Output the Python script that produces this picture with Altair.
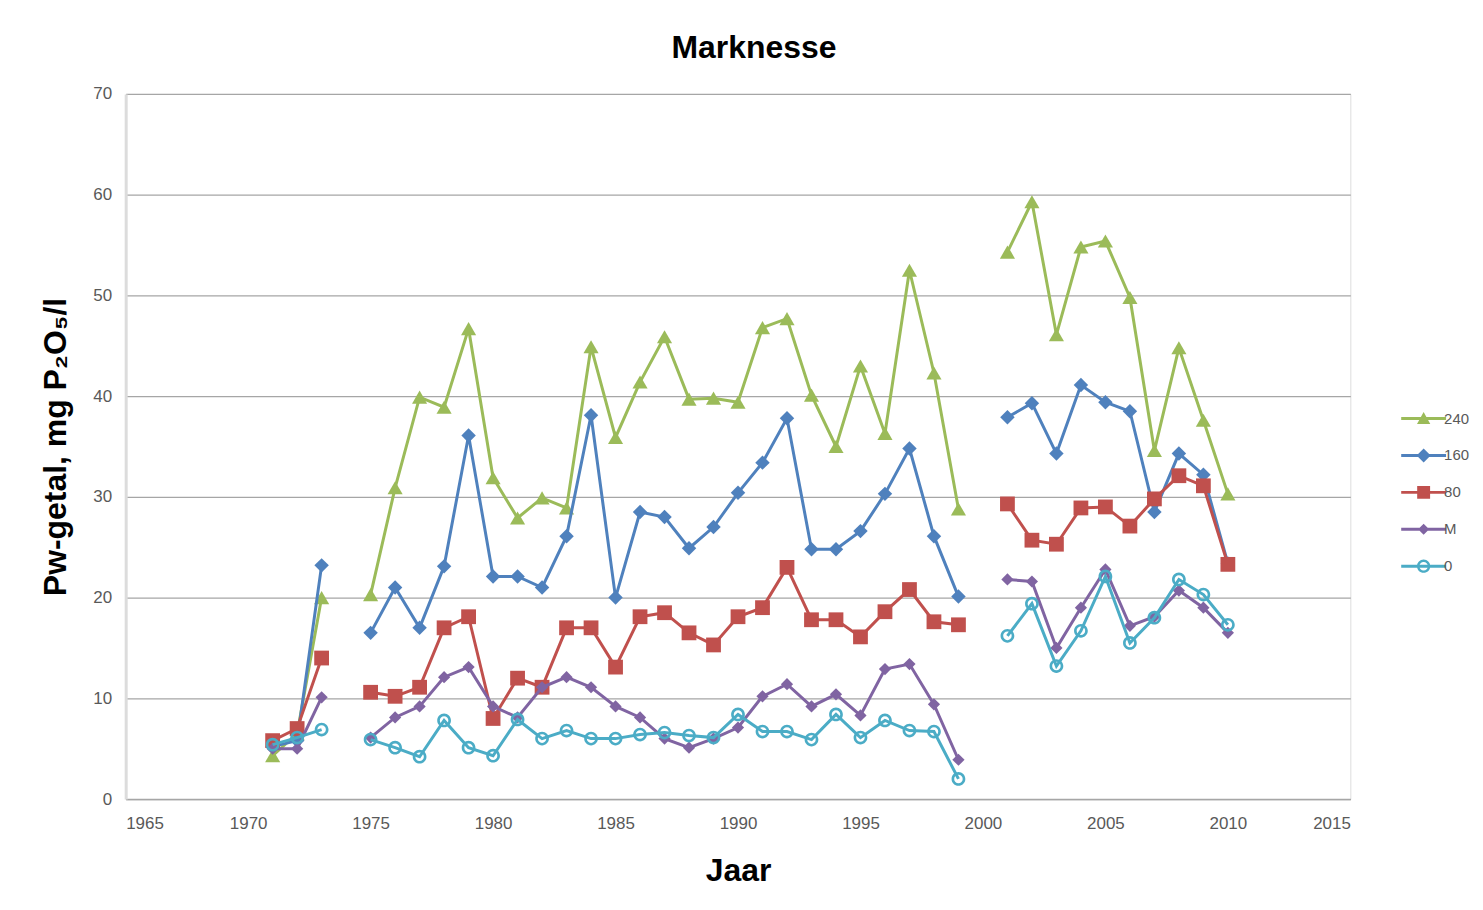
import altair as alt
import pandas as pd

# ---- data ----
years = [1971, 1972, 1973] + list(range(1975, 2000)) + list(range(2001, 2011))

s240 = [4.3, 6.5, 20.0,
        20.3, 30.9, 39.9, 38.9, 46.7, 31.9, 27.9, 29.9, 28.9, 44.9, 35.9, 41.4, 45.9,
        39.7, 39.8, 39.4, 46.8, 47.7, 40.1, 35.0, 43.0, 36.3, 52.5, 42.3, 28.8,
        54.3, 59.3, 46.1, 54.8, 55.4, 49.8, 34.6, 44.8, 37.6, 30.3]
s160 = [5.2, 5.8, 23.2,
        16.5, 21.0, 17.0, 23.1, 36.1, 22.1, 22.1, 21.0, 26.1, 38.1, 20.0, 28.5, 28.0,
        24.9, 27.0, 30.4, 33.4, 37.8, 24.8, 24.8, 26.6, 30.3, 34.8, 26.1, 20.1,
        37.9, 39.3, 34.3, 41.1, 39.4, 38.5, 28.5, 34.3, 32.2, 23.4]
s80 = [5.8, 7.0, 14.0,
       10.6, 10.2, 11.1, 17.0, 18.1, 8.0, 12.0, 11.1, 17.0, 17.0, 13.1, 18.1, 18.5,
       16.5, 15.3, 18.1, 19.0, 23.0, 17.8, 17.8, 16.1, 18.6, 20.8, 17.6, 17.3,
       29.3, 25.7, 25.3, 28.9, 29.0, 27.1, 29.8, 32.1, 31.1, 23.3]
sM = [5.0, 5.0, 10.1,
      6.1, 8.1, 9.2, 12.1, 13.1, 9.2, 8.1, 11.1, 12.1, 11.1, 9.2, 8.1, 6.0,
      5.1, 6.0, 7.1, 10.2, 11.4, 9.2, 10.4, 8.3, 12.9, 13.4, 9.4, 3.9,
      21.8, 21.6, 15.0, 19.0, 22.8, 17.2, 18.1, 20.7, 19.0, 16.5]
s0 = [5.4, 6.1, 6.9,
      5.9, 5.1, 4.2, 7.8, 5.1, 4.3, 7.9, 6.0, 6.8, 6.0, 6.0, 6.4, 6.6,
      6.3, 6.1, 8.4, 6.7, 6.7, 5.9, 8.4, 6.1, 7.8, 6.8, 6.7, 2.0,
      16.2, 19.4, 13.2, 16.7, 22.1, 15.5, 18.0, 21.8, 20.3, 17.3]

series_names = ["240", "160", "80", "M", "0"]
series_values = [s240, s160, s80, sM, s0]
colors = ["#9BBB59", "#4F81BD", "#C0504D", "#8064A2", "#4BACC6"]

x_ticks = list(range(1965, 2016, 5))
y_ticks = list(range(0, 71, 10))

rows = []
for name, vals in zip(series_names, series_values):
    for yr, v in zip(years, vals):
        seg = 0 if yr < 1974 else (1 if yr < 2000 else 2)
        rows.append({"year": yr, "value": v, "series": name, "segment": seg})
df = pd.DataFrame(rows)

# marker shapes (chart)
ring = ("M1,0A1,1,0,1,1,-1,0A1,1,0,1,1,1,0Z "
        "M0.62,0A0.62,0.62,0,1,0,-0.62,0A0.62,0.62,0,1,0,0.62,0Z")
shapes = ["triangle-up", "diamond", "square", "diamond", ring]
sizes = [230, 210, 220, 150, 190]

# legend symbols: line segment + marker
bar = "M-1.216,-0.08H1.216V0.08H-1.216Z "
leg_paths = [
    bar + "M0,-0.36L0.36,0.3H-0.36Z",
    bar + "M0,-0.38L0.38,0L0,0.38L-0.38,0Z",
    bar + "M-0.35,-0.35H0.35V0.35H-0.35Z",
    bar + "M0,-0.3L0.3,0L0,0.3L-0.3,0Z",
    bar + ("M0.36,0A0.36,0.36,0,1,1,-0.36,0A0.36,0.36,0,1,1,0.36,0Z "
           "M0.23,0A0.23,0.23,0,1,0,-0.23,0A0.23,0.23,0,1,0,0.23,0Z"),
]

FONT = "Liberation Sans"

x_enc = alt.X("year:Q",
              scale=alt.Scale(domain=[1965, 2015], nice=False, zero=False),
              axis=alt.Axis(values=x_ticks, format="d", grid=False, ticks=False,
                            labelFontSize=17, labelColor="#595959", labelPadding=17,
                            domainColor="#a6a6a6", domainWidth=1.5,
                            title="Jaar", titleFontSize=32, titleFontWeight="bold",
                            titleColor="#000000", titleY=82, titleBaseline="alphabetic"))
y_enc = alt.Y("value:Q",
              scale=alt.Scale(domain=[0, 70], nice=False),
              axis=alt.Axis(values=y_ticks, grid=True, gridColor="#a6a6a6", gridWidth=1.3,
                            ticks=False, labelFontSize=17, labelColor="#595959",
                            labelPadding=14, domainColor="#dcdcdc", domainWidth=3,
                            title="Pw-getal, mg P₂O₅/l", titleFontSize=32,
                            titleFontWeight="bold", titleColor="#000000",
                            titleX=-60, titleBaseline="alphabetic"))

# one line layer + one marker layer per series (constant colour, no disabled legends)
layers = []
for name, col, shp, sz in zip(series_names, colors, shapes, sizes):
    sub = alt.Chart(df).transform_filter(alt.datum.series == name)
    layers.append(
        sub.mark_line(strokeWidth=3, color=col)
        .encode(x=x_enc, y=y_enc, detail="segment:N")
    )
    layers.append(
        sub.mark_point(filled=True, opacity=1, shape=shp, size=sz, strokeWidth=0, fill=col)
        .encode(x=x_enc, y=y_enc)
    )

legend = alt.Legend(orient="none", legendX=1283, legendY=307, title=None,
                    symbolSize=1369, symbolStrokeWidth=0, symbolOpacity=1,
                    labelFontSize=15, labelColor="#595959", labelFont=FONT,
                    labelOffset=2, rowPadding=10, padding=0)

# invisible layer that only carries the legend (line + marker symbols)
legend_layer = alt.Chart(df).mark_point(filled=True, opacity=0).encode(
    x=x_enc, y=y_enc,
    color=alt.Color("series:N", scale=alt.Scale(domain=series_names, range=colors),
                    legend=legend),
    shape=alt.Shape("series:N", scale=alt.Scale(domain=series_names, range=leg_paths),
                    legend=legend),
)

chart = alt.layer(*layers, legend_layer).properties(
    width=1228, height=707,
    title=alt.TitleParams("Marknesse", fontSize=32, fontWeight="bold", color="#000000",
                          font=FONT, anchor="middle", offset=20, dx=16),
    padding={"left": 32, "top": 23, "right": 5, "bottom": 5},
).configure_view(stroke=None).configure_axis(
    labelFont=FONT, titleFont=FONT
).configure(background="white")

chart.save("out.html", embed_options={"renderer": "svg", "actions": False})
